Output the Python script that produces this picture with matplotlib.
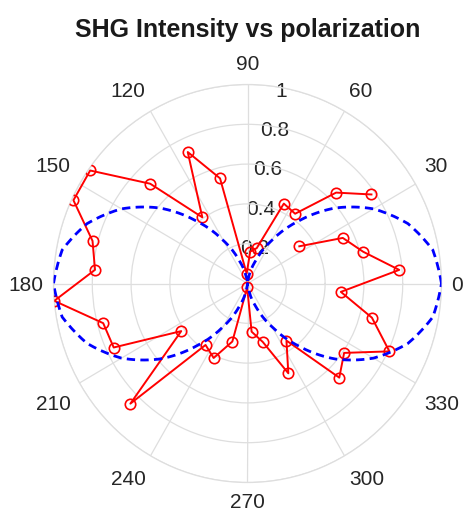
import numpy as np
import matplotlib
matplotlib.use("Agg")
import matplotlib.pyplot as plt

plt.rcParams['font.family'] = ['Liberation Sans', 'DejaVu Sans']

# measured SHG intensity (normalised) vs polarization angle, degrees
pol_angle = [35, 45, 55, 65, 75, 85, 95, 105, 115, 125, 135, 145, 155, 165, 175,
             185, 195, 205, 215, 225, 235, 245, 255, 265, 275, 285, 295, 305, 315,
             325, 335, 345, 355, 365, 375, 385, 395]
shg_intensity = [0.78, 0.646, 0.428, 0.443, 0.184, 0.161, 0.05, 0.547, 0.729, 0.406,
                 0.709, 0.99, 0.99, 0.827, 0.789, 1.0, 0.77, 0.761, 0.417, 0.854,
                 0.377, 0.413, 0.302, 0.02, 0.243, 0.304, 0.498, 0.35, 0.669, 0.608,
                 0.807, 0.664, 0.483, 0.785, 0.617, 0.542, 0.326]

# fitted curve
fit_angle = list(range(0, 361, 10))
fit_intensity = [1.0, 0.97, 0.88, 0.75, 0.59, 0.41, 0.25, 0.12, 0.03, 0.0,
                 0.03, 0.12, 0.25, 0.41, 0.59, 0.75, 0.88, 0.97, 1.0,
                 0.97, 0.88, 0.75, 0.59, 0.41, 0.25, 0.12, 0.03, 0.0,
                 0.03, 0.12, 0.25, 0.41, 0.59, 0.75, 0.88, 0.97, 1.0]

r_ticks = [0.2, 0.4, 0.6, 0.8, 1.0]
r_labels = ['0.2', '0.4', '0.6', '0.8', '1']
theta_ticks = list(range(0, 360, 30))

W, H = 467, 514
FS = 15
CAP = FS * 100 / 72 * 0.716   # digit height in px

fig = plt.figure(figsize=(W / 100, H / 100), dpi=100)
ax = fig.add_axes([53.5 / W, 31.5 / H, 388 / W, 398 / H], projection='polar')
ax.set_aspect('auto')

ax.plot(np.deg2rad(pol_angle), shg_intensity, color='#ff0000', lw=1.4,
        marker='o', ms=7.5, mfc='none', mew=1.2, zorder=3)
fit_line, = ax.plot(np.deg2rad(fit_angle), fit_intensity, color='#0000ff', lw=2.0,
                    dashes=(3, 1.9), zorder=4)
fit_line.get_path()._interpolation_steps = 10   # follow the polar curve smoothly

ax.set_ylim(0, 1)
ax.set_yticks(r_ticks)
ax.set_yticklabels([])
ax.set_xticks(np.deg2rad(theta_ticks))
ax.set_xticklabels([])
ax.grid(color='#dedede', lw=0.9)
ax.spines['polar'].set_color('#dedede')
ax.spines['polar'].set_linewidth(0.9)

grey = '#262626'
for v, lab in zip(r_ticks, r_labels):
    ax.annotate(lab, xy=(np.deg2rad(80), v), xytext=(0, -CAP / 2 - 2),
                textcoords='offset pixels', ha='center', va='baseline',
                fontsize=FS, color=grey, zorder=1.5)

# theta labels: nearest corner of the label sits just outside the rim
for a in theta_ticks:
    th = np.deg2rad(a)
    c, s = np.cos(th), np.sin(th)
    c = 0.0 if abs(c) < 1e-6 else c
    s = 0.0 if abs(s) < 1e-6 else s
    ha = 'left' if c > 0 else ('right' if c < 0 else 'center')
    dx = 10 * c
    if s > 0:
        dy = 14.5 * s ** 0.3
    elif s < 0:
        dy = -14.5 * (-s) ** 0.3 - CAP
    else:
        dy = -CAP / 2
    # keep the baseline (plus descent) inside the figure
    y_px = ax.transData.transform((th, 1.0))[1] + dy
    if y_px < 6:
        dy += 6 - y_px
    ax.annotate(str(a), xy=(th, 1.0), xytext=(dx, dy),
                textcoords='offset pixels', ha=ha, va='baseline',
                fontsize=FS, color=grey, annotation_clip=False)

fig.text(247.5 / W, 1 - 36.5 / H, 'SHG Intensity vs polarization', ha='center',
         va='baseline', fontsize=18, fontweight='bold', color='#1a1a1a')

fig.savefig('out.png', dpi=100)
